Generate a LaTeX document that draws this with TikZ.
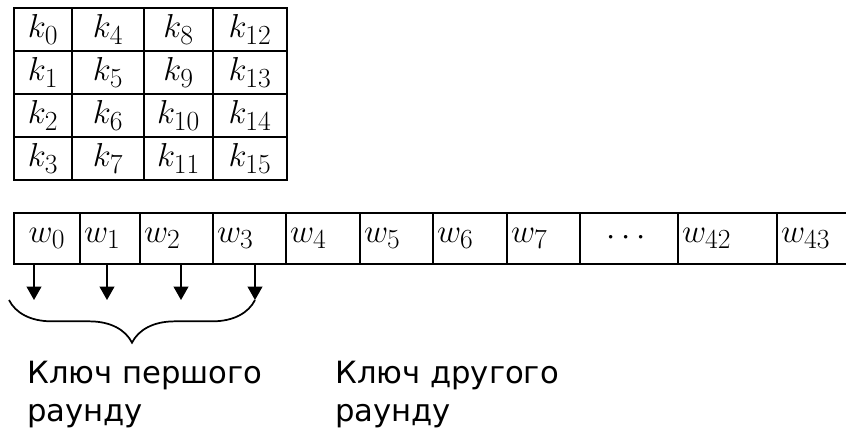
\documentclass[tikz,border=0pt]{standalone}
\usepackage{amsmath}
\usepackage{fontspec}
\usetikzlibrary{arrows.meta,decorations.pathreplacing}
\newfontfamily\labelfont{DejaVu Sans}

\begin{document}
\begin{tikzpicture}[x=0.75pt,y=-0.75pt,
  kcell/.style={draw,line width=1.3pt,inner sep=0pt,minimum height=32.25pt,
    font=\fontsize{32}{36}\selectfont},
  wcell/.style={draw,line width=1.3pt,inner xsep=3pt,inner ysep=0pt,
    minimum height=38.25pt,align=left,font=\fontsize{32}{36}\selectfont},
  roundkey/.style={anchor=north west,inner sep=0pt,align=left,
    font=\labelfont\fontsize{23}{28.5}\selectfont}]
\path [use as bounding box,clip] (0,0) rectangle (846,430);
% key matrix
\node [kcell,minimum width=43.5pt] (k0) at (43,29.5) {$k_0$};
\node [kcell,minimum width=54pt] (k4) at (108,29.5) {$k_4$};
\node [kcell,minimum width=51.75pt] (k8) at (178.5,29.5) {$k_8$};
\node [kcell,minimum width=55.5pt] (k12) at (250,29.5) {$k_{12}$};
\node [kcell,minimum width=43.5pt] (k1) at (43,72.5) {$k_1$};
\node [kcell,minimum width=54pt] (k5) at (108,72.5) {$k_5$};
\node [kcell,minimum width=51.75pt] (k9) at (178.5,72.5) {$k_9$};
\node [kcell,minimum width=55.5pt] (k13) at (250,72.5) {$k_{13}$};
\node [kcell,minimum width=43.5pt] (k2) at (43,115.5) {$k_2$};
\node [kcell,minimum width=54pt] (k6) at (108,115.5) {$k_6$};
\node [kcell,minimum width=51.75pt] (k10) at (178.5,115.5) {$k_{10}$};
\node [kcell,minimum width=55.5pt] (k14) at (250,115.5) {$k_{14}$};
\node [kcell,minimum width=43.5pt] (k3) at (43,158.5) {$k_3$};
\node [kcell,minimum width=54pt] (k7) at (108,158.5) {$k_7$};
\node [kcell,minimum width=51.75pt] (k11) at (178.5,158.5) {$k_{11}$};
\node [kcell,minimum width=55.5pt] (k15) at (250,158.5) {$k_{15}$};
% expanded key words
\node [wcell,text width=43.5pt,align=center] (w0) at (47,238.5) {$w_0$};
\node [wcell,text width=39pt] (w1) at (110,238.5) {$w_1$};
\node [wcell,text width=48.75pt] (w2) at (176.5,238.5) {$w_2$};
\node [wcell,text width=48.75pt] (w3) at (249.5,238.5) {$w_3$};
\node [wcell,text width=49.5pt] (w4) at (323,238.5) {$w_4$};
\node [wcell,text width=48.75pt] (w5) at (396.5,238.5) {$w_5$};
\node [wcell,text width=49.5pt] (w6) at (470,238.5) {$w_6$};
\node [wcell,text width=48.75pt] (w7) at (543.5,238.5) {$w_7$};
\node [wcell,text width=67.5pt,align=center] (wdots) at (629,238.5) {$\cdots$};
\node [wcell,text width=68.25pt] (w42) at (727.5,238.5) {$w_{42}$};
\node [wcell,text width=63.75pt] (w43) at (823.5,238.5) {$w_{43}$};
% arrows
\coordinate (a0) at (34,300);
\coordinate (a1) at (107,300);
\coordinate (a2) at (181,300);
\coordinate (a3) at (255,300);
\draw [line width=1.3pt,-{Triangle[width=11pt,length=10pt]}] (w0.south -| a0) -- (a0);
\draw [line width=1.3pt,-{Triangle[width=11pt,length=10pt]}] (w1.south -| a1) -- (a1);
\draw [line width=1.3pt,-{Triangle[width=11pt,length=10pt]}] (w2.south -| a2) -- (a2);
\draw [line width=1.3pt,-{Triangle[width=11pt,length=10pt]}] (w3.south -| a3) -- (a3);
\coordinate (b0) at (9,300);
\draw [line width=1.3pt,decorate,decoration={brace,amplitude=32pt}] (a3) -- (b0);
% labels
\node [roundkey] (r1) at (27,361) {Ключ першого\\раунду};
\node [roundkey] (r2) at (335,361) {Ключ другого\\раунду};
\end{tikzpicture}
\end{document}
